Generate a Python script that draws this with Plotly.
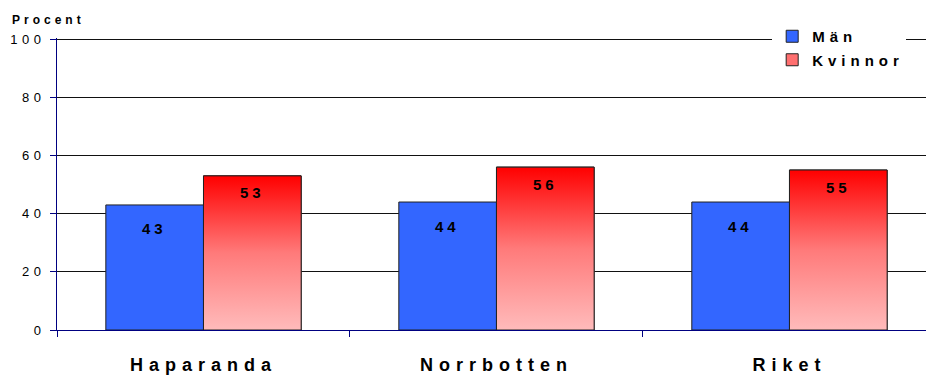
import plotly.graph_objects as go

categories = ["Haparanda", "Norrbotten", "Riket"]
man_values = [43, 44, 44]
kvinnor_values = [53, 56, 55]
y_ticks = [0, 20, 40, 60, 80, 100]

BLUE = "#3366ff"
NAVY = "#000080"
FONT = "Liberation Sans, Arial, sans-serif"
W = 1 / 3

xs = list(range(len(categories)))
fig = go.Figure()

fig.add_trace(go.Bar(
    x=[i - W / 2 for i in xs], y=man_values, width=W, name="<b>Män</b>",
    legendgroup="a",
    marker=dict(color=BLUE, line=dict(color="#222222", width=1)),
))
fig.add_trace(go.Bar(
    x=[i + W / 2 for i in xs], y=kvinnor_values, width=W, name="<b>Kvinnor</b>",
    legendgroup="b",
    marker=dict(color="#ff6f6f", line=dict(color="#222222", width=1)),
))

# gradient overlay for Kvinnor bars
for i, v in zip(xs, kvinnor_values):
    fig.add_trace(go.Scatter(
        x=[i, i, i + W, i + W, i], y=[0, v, v, 0, 0],
        mode="lines", fill="toself",
        line=dict(color="#222222", width=1),
        fillgradient=dict(type="vertical",
                          colorscale=[[0, "#ffbbbb"], [0.5, "#ff7a7a"], [1, "#ff0000"]]),
        showlegend=False, hoverinfo="skip",
    ))

for i, v in zip(xs, man_values):
    fig.add_annotation(x=i - W / 2, y=v, yshift=-24, text=f"<b>{v}</b>", showarrow=False,
                       font=dict(family=FONT, size=15, color="black"), yanchor="middle")
for i, v in zip(xs, kvinnor_values):
    fig.add_annotation(x=i + W / 2, y=v, yshift=-17, text=f"<b>{v}</b>", showarrow=False,
                       font=dict(family=FONT, size=15, color="black"), yanchor="middle")

fig.add_annotation(x=-0.038, xref="paper", xanchor="left", y=1.0616, yref="paper", yanchor="middle",
                   text="<b>Procent</b>", showarrow=False,
                   font=dict(family=FONT, size=12, color="black"))

fig.update_layout(
    width=926, height=376,
    margin=dict(l=57, r=0, t=38, b=46, autoexpand=False),
    paper_bgcolor="white", plot_bgcolor="white",
    font=dict(family=FONT, color="black"),
    barmode="overlay",
    showlegend=True,
    legend=dict(x=0.823, xanchor="left", y=1.0616, yanchor="top",
                bgcolor="white", font=dict(family=FONT, size=15, color="black"),
                itemwidth=30, tracegroupgap=1),
    xaxis=dict(
        range=[-0.5, 2.466],
        tickvals=xs, ticktext=[f"<b>{c}</b>" for c in categories],
        ticks="", showgrid=False, zeroline=False,
        showline=True, linecolor=NAVY, linewidth=1,
        tickfont=dict(family=FONT, size=18, color="black"),
        ticklabelstandoff=18,
        minor=dict(tickvals=[-0.5, 0.5, 1.5], ticks="outside", ticklen=6,
                   tickcolor=NAVY, tickwidth=1, showgrid=False),
    ),
    yaxis=dict(
        range=[0, 100.4], tickvals=y_ticks,
        showgrid=True, gridcolor="#111111", gridwidth=1, zeroline=False,
        showline=True, linecolor=NAVY, linewidth=1,
        ticks="outside", ticklen=6, tickcolor=NAVY,
        tickfont=dict(family=FONT, size=13, color="black"),
        ticklabelstandoff=2,
    ),
)

post = """
document.body.style.margin = '0';
var gd = document.getElementById('{plot_id}');
function sp(sel, v) { gd.querySelectorAll(sel).forEach(function (t) { t.style.letterSpacing = v; }); }
sp('.xtick text', '6px');
sp('.ytick text', '4.5px');
sp('.legendtext', '5px');
sp('.annotation-text', '4px');
gd.querySelectorAll('.legend .scrollbox').forEach(function (s) { s.removeAttribute('clip-path'); });
gd.querySelectorAll('.legend rect.bg').forEach(function (r) { r.setAttribute('width', '134'); });
"""

fig.write_html("out.html", post_script=post, config={"displayModeBar": False})
